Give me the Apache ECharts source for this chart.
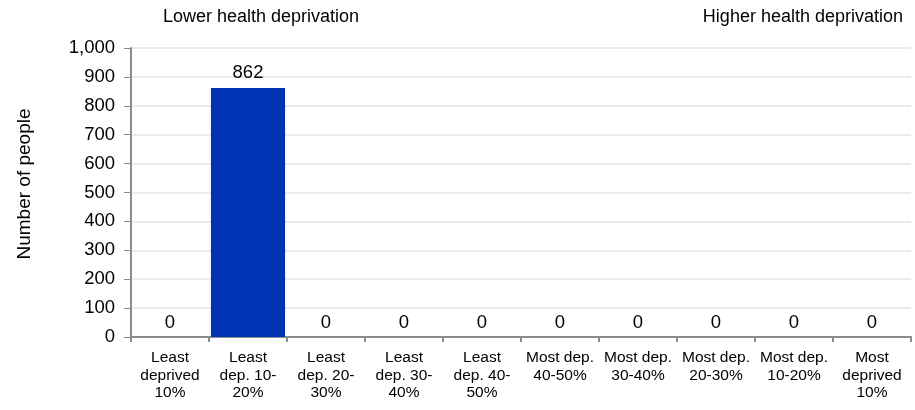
<!DOCTYPE html>
<html><head><meta charset="utf-8">
<script src="https://cdn.jsdelivr.net/npm/echarts@6/dist/echarts.min.js"></script>
<style>html,body{margin:0;padding:0;background:#fff}#c{width:915px;height:410px}</style>
</head><body><div id="c"></div>
<script>
const categories = ["Least\ndeprived\n10%","Least\ndep. 10-\n20%","Least\ndep. 20-\n30%","Least\ndep. 30-\n40%","Least\ndep. 40-\n50%","Most dep.\n40-50%","Most dep.\n30-40%","Most dep.\n20-30%","Most dep.\n10-20%","Most\ndeprived\n10%"];
const values = [0, 862, 0, 0, 0, 0, 0, 0, 0, 0];
const yTicks = {min: 0, max: 1000, interval: 100};
const leftNote = "Lower health deprivation";
const rightNote = "Higher health deprivation";
const yTitle = "Number of people";
const font = "Liberation Sans, Arial, sans-serif";
const chart = echarts.init(document.getElementById('c'));
chart.setOption({
  animation: false,
  grid: {left: 131, right: 4, top: 48, bottom: 73, containLabel: false},
  graphic: [
    {type: 'text', left: 163, top: 8, style: {text: leftNote, font: '18px ' + font, fill: '#000'}},
    {type: 'text', right: 12, top: 8, style: {text: rightNote, font: '18px ' + font, fill: '#000'}},
    {type: 'text', x: 25, y: 184, rotation: Math.PI / 2,
      style: {text: yTitle, font: '19px ' + font, fill: '#000', align: 'center', verticalAlign: 'middle'}}
  ],
  xAxis: {
    type: 'category', data: categories,
    axisLine: {lineStyle: {color: '#8c8c8c', width: 2}},
    axisTick: {show: true, length: 5, lineStyle: {color: '#8c8c8c', width: 2}},
    axisLabel: {color: '#000', fontSize: 15.5, fontFamily: font, lineHeight: 17.5, margin: 12, interval: 0}
  },
  yAxis: {
    type: 'value', min: yTicks.min, max: yTicks.max, interval: yTicks.interval,
    axisLine: {show: true, lineStyle: {color: '#8c8c8c', width: 2}},
    axisTick: {show: true, length: 7, lineStyle: {color: '#8c8c8c', width: 1}},
    splitLine: {lineStyle: {color: '#ebebeb', width: 2}},
    axisLabel: {color: '#000', fontSize: 18.5, fontFamily: font, margin: 16,
      formatter: v => v.toLocaleString('en-US')}
  },
  series: [{
    type: 'bar', data: values, barCategoryGap: '5%',
    itemStyle: {color: '#0033b4'},
    label: {show: true, position: 'top', distance: 5, color: '#000', fontSize: 18.5, fontFamily: font}
  }]
});
</script></body></html>
